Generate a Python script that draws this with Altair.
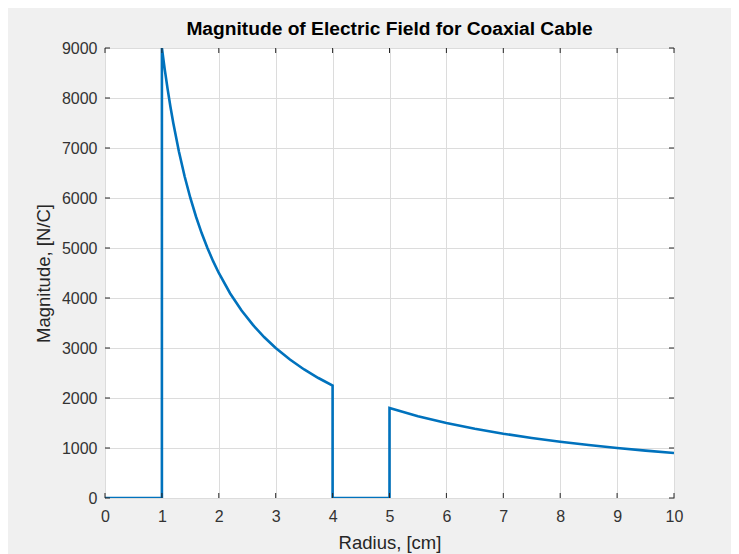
import altair as alt
import pandas as pd

# Radius [cm] and field magnitude [N/C] (path order)
radius = [0, 1, 1, 1.05, 1.1, 1.15, 1.2, 1.3, 1.4, 1.5, 1.6, 1.7, 1.8, 1.9, 2.0,
          2.2, 2.4, 2.6, 2.8, 3.0, 3.25, 3.5, 3.75, 4.0, 4.0, 5.0, 5.0,
          5.5, 6.0, 6.5, 7.0, 7.5, 8.0, 8.5, 9.0, 9.5, 10.0]
magnitude = [0, 0, 9000, 8571, 8182, 7826, 7500, 6923, 6429, 6000, 5625, 5294, 5000, 4737, 4500,
             4091, 3750, 3462, 3214, 3000, 2769, 2571, 2400, 2250, 0, 0, 1800,
             1636, 1500, 1385, 1286, 1200, 1125, 1059, 1000, 947, 900]
x_ticks = [0, 1, 2, 3, 4, 5, 6, 7, 8, 9, 10]
y_ticks = [0, 1000, 2000, 3000, 4000, 5000, 6000, 7000, 8000, 9000]

W, H = 569, 450
FONT = "Liberation Sans"
AX = "#262626"

df = pd.DataFrame({"r": radius, "E": magnitude, "i": list(range(len(radius)))})
dx = pd.DataFrame({"r": x_ticks})
dy = pd.DataFrame({"E": y_ticks})

xs = alt.Scale(domain=[0, 10], nice=False, zero=False)
ys = alt.Scale(domain=[0, 9000], nice=False, zero=False)
X = alt.X("r:Q", scale=xs, title="Radius, [cm]",
          axis=alt.Axis(values=x_ticks, format="d", labelFlush=False,
                        labelPadding=10, titlePadding=9))
Y = alt.Y("E:Q", scale=ys, title="Magnitude, [N/C]",
          axis=alt.Axis(values=y_ticks, format="d", labelFlush=False,
                        labelPadding=8, titlePadding=8))

line = alt.Chart(df).mark_line(color="#0072BD", strokeWidth=2.6, clip=True).encode(
    x=X, y=Y, order="i:Q",
)

tk = 5
xb = alt.Chart(dx).mark_rule(color=AX, strokeWidth=1).encode(
    x=X, y=alt.value(H), y2=alt.value(H - tk))
xt = alt.Chart(dx).mark_rule(color=AX, strokeWidth=1).encode(
    x=X, y=alt.value(0), y2=alt.value(tk))
yl = alt.Chart(dy).mark_rule(color=AX, strokeWidth=1).encode(
    y=Y, x=alt.value(0), x2=alt.value(tk))
yr = alt.Chart(dy).mark_rule(color=AX, strokeWidth=1).encode(
    y=Y, x=alt.value(W), x2=alt.value(W - tk))

chart = alt.layer(line, xb, xt, yl, yr).properties(
    width=W, height=H,
    title=alt.TitleParams("Magnitude of Electric Field for Coaxial Cable",
                          font=FONT, fontSize=19.2, fontWeight="bold", color="#000000",
                          anchor="middle", offset=11, baseline="alphabetic",
                          frame="group", dy=25),
    autosize=alt.AutoSizeParams(type="none"),
    padding={"left": 97, "top": 40, "right": 57, "bottom": 56},
).configure(background="#f0f0f0").configure_view(
    fill="white", stroke=AX, strokeWidth=1
).configure_axis(
    grid=True, gridColor="#dcdcdc", gridWidth=1, domain=False, ticks=False, tickSize=0,
    labelFont=FONT, labelFontSize=16, labelColor="#333333",
    titleFont=FONT, titleFontSize=18.5, titleFontWeight="normal", titleColor=AX,
)

chart.save("out.html", embed_options={"renderer": "svg", "actions": False})
